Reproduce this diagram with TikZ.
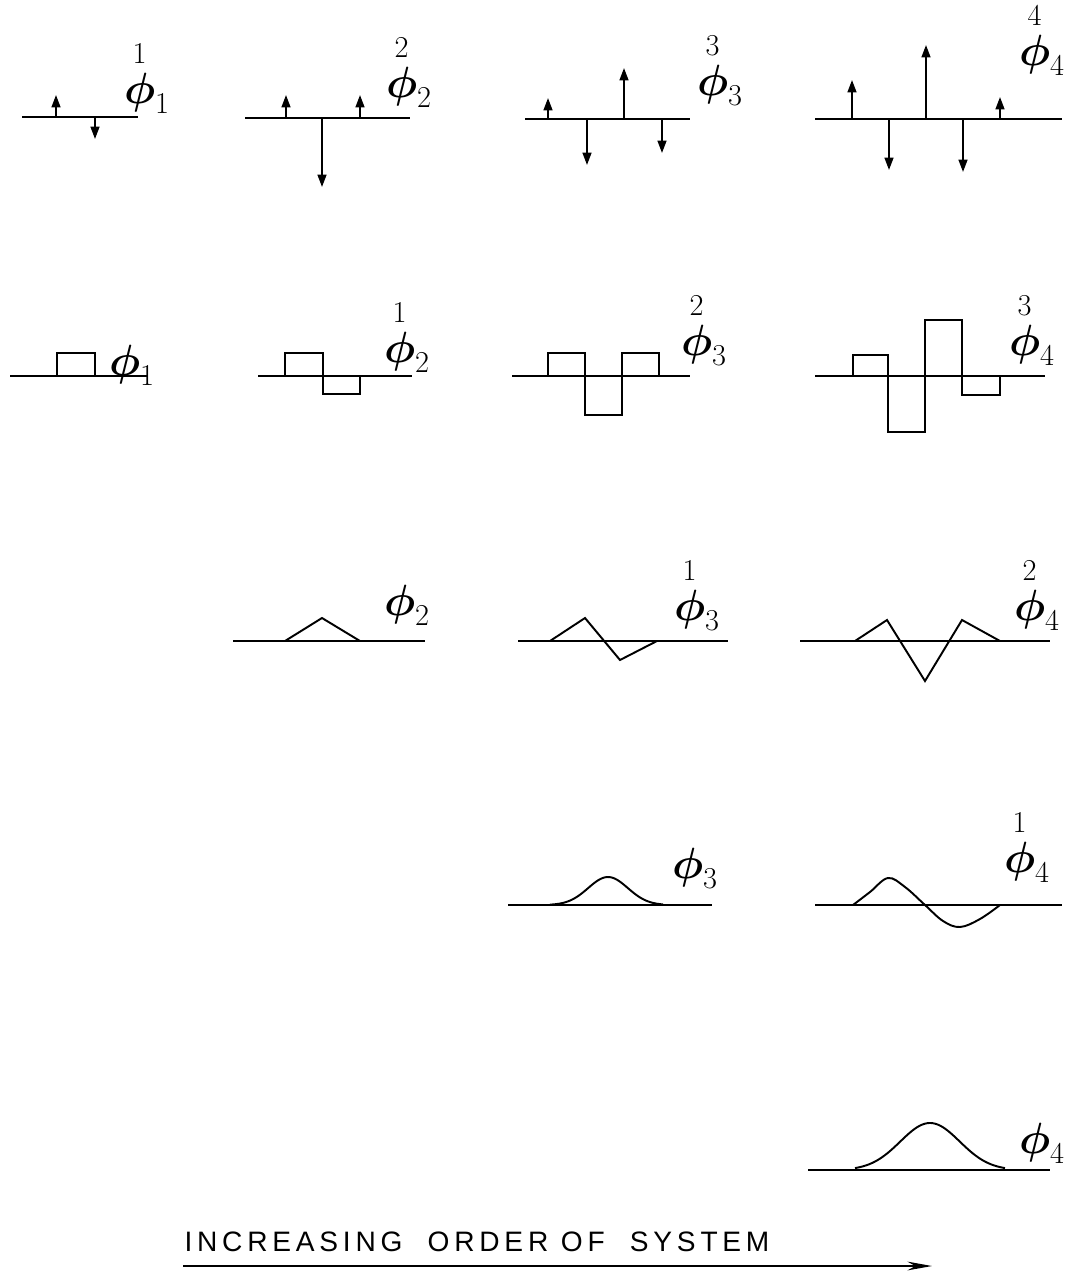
\documentclass[tikz,border=0pt]{standalone}
\usepackage{amsmath}
\usepackage{fontspec}
\newfontfamily\stencilfont[LetterSpace=17]{Liberation Sans}
\usetikzlibrary{arrows.meta}

\begin{document}
\begin{tikzpicture}[x=0.02cm, y=-0.02cm,
    axis/.style={line width=1.1pt},
    spike/.style={line width=1.1pt, -{Triangle[length=7pt, width=5pt]}},
    wave/.style={line width=1.1pt, line join=miter},
    philbl/.style={anchor=base, inner sep=0pt, font=\fontsize{26}{30}\selectfont}
  ]
  \useasboundingbox (0,0) rectangle (1075,1272);

  % row 1: impulses
  \draw[axis] (22,117) -- (138,117);
  \foreach \x/\y in {56/95, 95/139} \draw[spike] (\x,117) -- (\x,\y);
  \draw[axis] (245,118) -- (410,118);
  \foreach \x/\y in {286/95, 322/187, 360/95} \draw[spike] (\x,118) -- (\x,\y);
  \draw[axis] (525,119) -- (690,119);
  \foreach \x/\y in {548/98, 587/165, 624/68, 662/153} \draw[spike] (\x,119) -- (\x,\y);
  \draw[axis] (815,119) -- (1062,119);
  \foreach \x/\y in {852/80, 889/170, 926/45, 963/172, 1000/97} \draw[spike] (\x,119) -- (\x,\y);

  % row 2: blocks
  \draw[axis] (10,376) -- (148,376);
  \draw[wave] (57,376) -- (57,353) -- (95,353) -- (95,376);
  \draw[axis] (258,376) -- (412,376);
  \draw[wave] (285,376) -- (285,353) -- (323,353) -- (323,394) -- (360,394) -- (360,376);
  \draw[axis] (512,376) -- (690,376);
  \draw[wave] (548,376) -- (548,353) -- (585,353) -- (585,415) -- (622,415) -- (622,353) -- (659,353) -- (659,376);
  \draw[axis] (815,376) -- (1045,376);
  \draw[wave] (853,376) -- (853,355) -- (888,355) -- (888,432) -- (925,432) -- (925,320) -- (962,320) -- (962,395) -- (1000,395) -- (1000,376);

  % row 3: hats
  \draw[axis] (233,641) -- (425,641);
  \draw[wave] (285,641) -- (322,618) -- (360,641);
  \draw[axis] (518,641) -- (728,641);
  \draw[wave] (550,641) -- (585,618) -- (620,660) -- (657,641);
  \draw[axis] (800,641) -- (1050,641);
  \draw[wave] (855,641) -- (887,620) -- (925,681) -- (962,620) -- (1000,641);

  % row 4 and 5: smooth
  \draw[axis] (508,905) -- (712,905);
  \draw[wave, domain=550:663, samples=60]
    plot (\x, {905 - 28*exp(-((\x-608)/28)*((\x-608)/28))});
  \draw[axis] (815,905) -- (1062,905);
  \draw[wave] plot[smooth, tension=0.6] coordinates {(853,905) (870,892) (888,878) (905,887) (925,905)
    (943,921) (960,927) (980,919) (1000,905)};
  \draw[axis] (808,1170) -- (1050,1170);
  \draw[wave, domain=855:1005, samples=80]
    plot (\x, {1170 - 47*exp(-((\x-930)/42)*((\x-930)/42))});

  % labels
  \foreach \n/\x/\y/\s/\b in {a/147/103/1/1, b/409/97/2/2, c/720/95/3/3, d/1042/65/4/4,
      e/132/375//1, f/407/362/1/2, g/704/355/2/3, h/1032/355/3/4,
      i/407/615//2, j/697/620/1/3, k/1037/620/2/4,
      l/695/878//3, m/1027/872/1/4, n/1042/1153//4}
    \node[philbl] (phi\n) at (\x,\y) {$\overset{\s}{\boldsymbol{\phi}}_{\b}$};

  \node[font=\stencilfont\fontsize{16}{18}\selectfont] (caption) at (477,1242) {INCREASING\ \ ORDER OF\ \ SYSTEM};
  \coordinate (arrowstart) at (183,1266);
  \coordinate (arrowend) at (932,1266);
  \draw[line width=1.1pt, -{Stealth[length=14pt, width=5pt]}] (arrowstart) -- (arrowend);
\end{tikzpicture}
\end{document}
